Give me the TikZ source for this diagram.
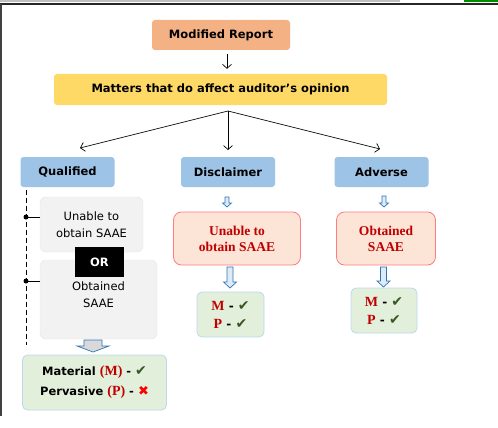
\documentclass[tikz,border=0pt]{standalone}
\usepackage{fontspec}
\setmainfont{DejaVu Sans}
\newfontfamily\redfont{Liberation Serif}
\usetikzlibrary{arrows.meta}
\definecolor{boxorange}{HTML}{F4B183}
\definecolor{boxyellow}{HTML}{FFD966}
\definecolor{boxblue}{HTML}{9DC3E6}
\definecolor{boxgrey}{HTML}{F2F2F2}
\definecolor{greyline}{HTML}{E4E4E4}
\definecolor{boxpink}{HTML}{FCE4D6}
\definecolor{pinkline}{HTML}{FF7C80}
\definecolor{boxgreen}{HTML}{E2EFDA}
\definecolor{greenline}{HTML}{BDD7EE}
\definecolor{darkred}{HTML}{C00000}
\definecolor{checkgreen}{HTML}{375623}
\definecolor{arrowblue}{HTML}{2E75B6}
\definecolor{arrowfill}{HTML}{DEEBF7}
\newcommand{\chk}{{\fontsize{14}{0}\selectfont\textcolor{checkgreen}{✔}}}
\newcommand{\crs}{{\fontsize{13}{0}\selectfont\textcolor{red}{✖}}}
\newcommand{\rd}[1]{{\fontsize{14}{0}\selectfont\textcolor{darkred}{\redfont\bfseries #1}}}
% #1 fill, #2 top point, #3 length, #4 half shaft, #5 half head, #6 head length
\newcommand{\blk}[6][arrowfill]{%
  \draw[blockarrow, fill=#1] (#2) ++(-#4,0) -- ++(2*#4,0) -- ++(0,#3-#6) -- ++(#5-#4,0)
    -- ++(-#5,#6) -- ++(-#5,-#6) -- ++(#5-#4,0) -- cycle;}
\tikzset{
  box/.style={rounded corners=3pt, inner sep=2pt, align=center, font=\bfseries\fontsize{11.5}{14}\selectfont},
  headbox/.style={box, fill=boxblue, minimum width=94pt, minimum height=30pt},
  greybox/.style={rounded corners=6pt, fill=boxgrey, draw=greyline, align=center, font=\fontsize{11.5}{17}\selectfont},
  pinkbox/.style={rounded corners=8pt, fill=boxpink, draw=pinkline, line width=0.8pt, align=center, text=darkred, font=\redfont\bfseries\fontsize{13.5}{16}\selectfont},
  greenbox/.style={rounded corners=5pt, fill=boxgreen, draw=greenline, line width=0.8pt, align=center},
  thinarrow/.style={-{Straight Barb[length=4pt,width=9pt]}, line width=0.7pt},
  blockarrow/.style={draw=arrowblue, line width=0.7pt, line join=miter},
}
\begin{document}
\begin{tikzpicture}[x=1pt,y=-1pt]
\useasboundingbox (0,0) rectangle (498,428);
\fill[black!25] (0,0) rectangle (400,2);
\fill[green!55!black] (464,0) rectangle (498,2.5);
\draw[line width=1.5pt, black!85] (0,4) -- (498,4);
\draw[line width=1.2pt, black!75] (1,4) -- (1,416);

\node[box, fill=boxorange, minimum width=138pt, minimum height=30pt] (v1) at (221,35) {Modified Report};
\node[box, fill=boxyellow, minimum width=333pt, minimum height=31pt] (v2) at (220.5,89.5) {Matters that do affect auditor’s opinion};
\draw[thinarrow, shorten <=4pt, shorten >=5pt] (v1.south -| 227,0) -- (v2.north -| 227,0);

\node[headbox] (v3) at (67.5,172) {Qualified};
\node[headbox] (v4) at (228,172) {Disclaimer};
\node[headbox] (v5) at (381.5,172) {Adverse};
\coordinate (c0) at (228,111);
\coordinate (c1) at (80,148);
\coordinate (c2) at (228,150);
\coordinate (c3) at (380,149);
\draw[thinarrow] (c0) -- (c1);
\draw[thinarrow] (c0) -- (c2);
\draw[thinarrow] (c0) -- (c3);

% qualified column
\coordinate (q1) at (26,190);
\coordinate (q2) at (26,345);
\draw[line width=1pt, dash pattern=on 5pt off 3pt] (q1) -- (q2);
\node[greybox, minimum width=103pt, minimum height=55pt] (v6) at (91.5,224.5) {Unable to\\obtain SAAE};
\node[greybox, minimum width=117pt, minimum height=79pt] (v7) at (98.5,299.5) {};
\node[align=center, font=\fontsize{11.5}{17}\selectfont] (v7t) at (98.5,295) {Obtained\\SAAE};
\node[fill=black, text=white, font=\bfseries\fontsize{11.5}{14}\selectfont, minimum width=49pt, minimum height=30pt] (v8) at (99.5,262) {OR};
\coordinate (d1) at (26,217);
\coordinate (d2) at (26,281);
\fill (d1) circle (2.5pt);
\fill (d2) circle (2.5pt);
\draw[line width=0.8pt] (d1) -- (d1 -| v6.west);
\draw[line width=0.8pt] (d2) -- (d2 -| v7.west);
\node[greenbox, minimum width=144pt, minimum height=55pt, font=\bfseries\fontsize{11.5}{20}\selectfont] (v9) at (94.5,382.5) {Material \rd{(M)} - \chk\\Pervasive \rd{(P)} - \crs};
\coordinate (a1) at (93,340);
\blk[black!15]{a1}{12}{9}{16}{6}

% disclaimer column
\node[pinkbox, minimum width=127pt, minimum height=53pt] (v10) at (237,238.5) {Unable to\\obtain SAAE};
\node[greenbox, minimum width=67pt, minimum height=45pt, font=\bfseries\fontsize{12}{18}\selectfont] (v11) at (230.5,314.5) {\rd{M} - \chk\\\rd{P} - \chk};
\coordinate (a2) at (227,197);
\coordinate (a3) at (230,267);
\blk{a2}{10}{2}{4.5}{4}
\blk{a3}{21}{3}{6.5}{6}

% adverse column
\node[pinkbox, minimum width=99pt, minimum height=53pt] (v12) at (386,238.5) {Obtained\\SAAE};
\node[greenbox, minimum width=66pt, minimum height=45pt, font=\bfseries\fontsize{12}{18}\selectfont] (v13) at (384,310.5) {\rd{M} - \chk\\\rd{P} - \chk};
\coordinate (a4) at (384,196);
\coordinate (a5) at (383.5,267);
\blk{a4}{11}{2}{4.5}{4}
\blk{a5}{20}{3}{6.5}{6}
\end{tikzpicture}
\end{document}
